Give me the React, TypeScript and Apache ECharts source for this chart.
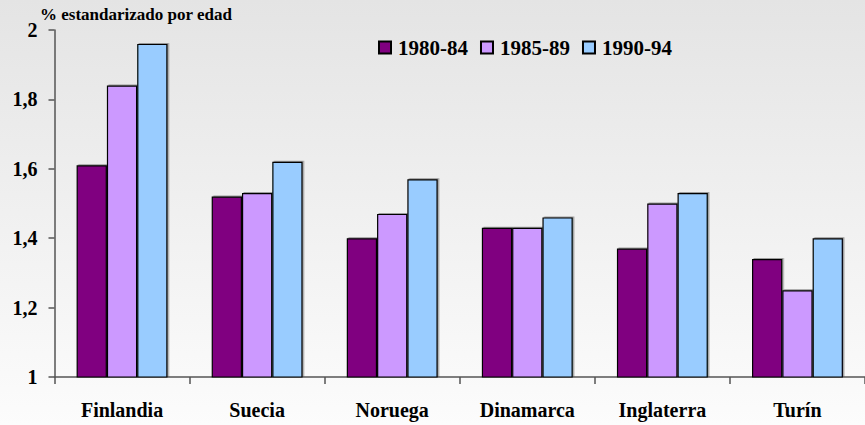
import React, { useEffect, useRef } from "react";
import * as echarts from "echarts";

const categories = ["Finlandia", "Suecia", "Noruega", "Dinamarca", "Inglaterra", "Turín"];
const seriesNames = ["1980-84", "1985-89", "1990-94"];
const values1980 = [1.61, 1.52, 1.4, 1.43, 1.37, 1.34];
const values1985 = [1.84, 1.53, 1.47, 1.43, 1.5, 1.25];
const values1990 = [1.96, 1.62, 1.57, 1.46, 1.53, 1.4];
const colors = ["#800080", "#cc99ff", "#99ccff"];
const yTitle = "% estandarizado por edad";

const FONT = "Liberation Serif";

export default function App() {
  const ref = useRef<HTMLDivElement>(null);

  useEffect(() => {
    if (!ref.current) return;
    const chart = echarts.init(ref.current, undefined, { renderer: "svg" });
    const data = [values1980, values1985, values1990];
    chart.setOption({
      animation: false,
      backgroundColor: new echarts.graphic.LinearGradient(0, 0, 0, 1, [
        { offset: 0, color: "#e4e4e4" },
        { offset: 1, color: "#fcfcfc" },
      ]),
      textStyle: { fontFamily: FONT },
      legend: {
        left: 373,
        top: 32,
        itemWidth: 12,
        itemHeight: 12,
        itemGap: 12,
        icon: "rect",
        textStyle: { fontFamily: FONT, fontWeight: "bold", fontSize: 21, color: "#000", padding: [0, 0, 0, 2] },
        data: seriesNames,
      },
      graphic: [
        {
          type: "text",
          left: 40,
          top: 6,
          style: { text: yTitle, fontFamily: FONT, fontWeight: "bold", fontSize: 17, fill: "#000" },
        },
      ],
      grid: { left: 54.5, top: 30, width: 817.5, bottom: 48, containLabel: false },
      xAxis: {
        type: "category",
        data: categories,
        axisLine: { lineStyle: { color: "#555", width: 1.5 } },
        axisTick: { show: true, length: 7, lineStyle: { color: "#555", width: 1.5 } },
        axisLabel: { fontFamily: FONT, fontWeight: "bold", fontSize: 20, color: "#000", margin: 23 },
      },
      yAxis: {
        type: "value",
        min: 1,
        max: 2,
        interval: 0.2,
        splitLine: { show: false },
        axisLine: { show: true, lineStyle: { color: "#555", width: 1.5 } },
        axisTick: { show: true, length: 6, lineStyle: { color: "#555", width: 1.5 } },
        axisLabel: {
          fontFamily: FONT,
          fontWeight: "bold",
          fontSize: 20,
          color: "#000",
          margin: 17,
          formatter: (v: number) => String(Number(v.toFixed(1))).replace(".", ","),
        },
      },
      series: seriesNames.map((name, i) => ({
        name,
        type: "bar",
        data: data[i],
        barWidth: 30.3,
        barGap: "0%",
        itemStyle: {
          color: colors[i],
          borderColor: "#000",
          borderWidth: 1.2,
          shadowColor: "rgba(0,0,0,0.35)",
          shadowOffsetX: 1.5,
          shadowOffsetY: -1,
          shadowBlur: 1,
        },
      })),
    });
    return () => chart.dispose();
  }, []);

  return (
    <div
      ref={ref}
      style={{ position: "fixed", left: 0, top: 0, width: 865, height: 425 }}
    />
  );
}
